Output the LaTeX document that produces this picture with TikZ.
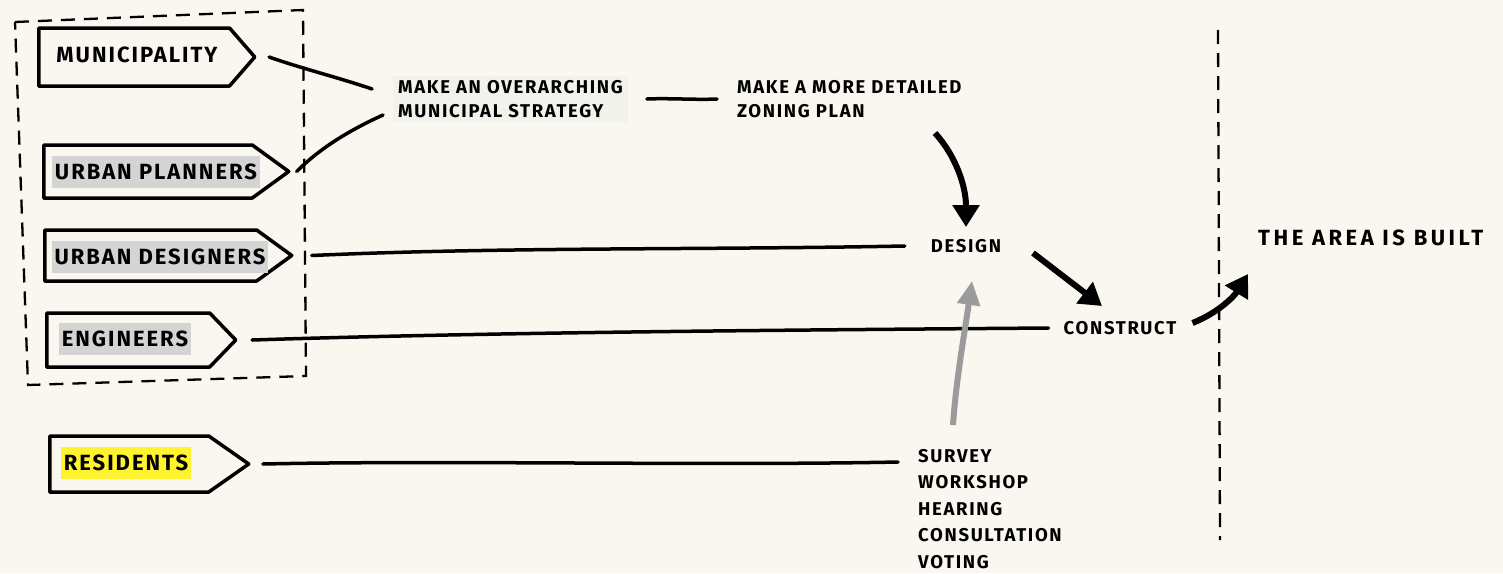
\documentclass[tikz,border=0pt]{standalone}
\usepackage{fontspec}
\setmainfont{Fira Sans}[LetterSpace=9]
\usetikzlibrary{arrows.meta,shapes.symbols}
\definecolor{bg}{HTML}{F9F7F0}
\definecolor{hlgrey}{HTML}{D4D4D4}
\definecolor{hlyellow}{HTML}{FFF22E}
\definecolor{hlpale}{HTML}{F2F2EC}
\definecolor{arrgrey}{HTML}{9B9B9B}
\tikzset{
  actor/.style={draw=black, line width=3.5pt, line join=round, fill=bg, signal, signal to=east, anchor=west, inner sep=0pt},
  big/.style={font=\fontsize{22}{26}\selectfont\bfseries, text=black},
  small/.style={font=\fontsize{18.5}{24}\selectfont\bfseries, text=black, align=left},
  hl/.style={big, inner xsep=3pt, inner ysep=8pt},
  conn/.style={draw=black, line width=3.5pt, line cap=round},
  thick arrow/.style={draw=black, line width=6pt, -{Triangle[length=22pt,width=26pt]}},
  grey arrow/.style={draw=arrgrey, line width=6pt, -{Triangle[length=24pt,width=22pt]}},
  dashline/.style={draw=black, line width=2.3pt, dash pattern=on 14pt off 9pt}
}
\begin{document}
\begin{tikzpicture}[x=1pt,y=-1pt]
\path[fill=bg] (0,0) rectangle (1503,573);
\useasboundingbox (0,0) rectangle (1503,573);

% dashed group box
\coordinate (g1) at (15,22);
\coordinate (g2) at (303,10);
\coordinate (g3) at (306,376);
\coordinate (g4) at (28,385);
\draw[dashline] (g1) -- (g2) -- (g3) -- (g4) -- cycle;

% vertical dashed divider
\coordinate (v1) at (1218,30);
\coordinate (v2) at (1220,540);
\draw[dashline] (v1) -- (v2);

% actors
\node[actor, minimum width=216pt, minimum height=58pt, signal pointer angle=98] (mun) at (37,57) {};
\node[big] (munt) at (137,55) {MUNICIPALITY};
\node[actor, minimum width=245pt, minimum height=53pt, signal pointer angle=72] (pla) at (42,171.5) {};
\node[hl, fill=hlgrey] (plat) at (156,172) {URBAN PLANNERS};
\node[actor, minimum width=247pt, minimum height=51pt, signal pointer angle=72] (des) at (43,255.5) {};
\node[hl, fill=hlgrey] (dest) at (160,257) {URBAN DESIGNERS};
\node[actor, minimum width=189pt, minimum height=54pt, signal pointer angle=92] (eng) at (45,340) {};
\node[hl, fill=hlgrey] (engt) at (125,339) {ENGINEERS};
\node[actor, minimum width=199pt, minimum height=56pt, signal pointer angle=70] (res) at (48,464) {};
\node[hl, fill=hlyellow] (rest) at (126,463) {RESIDENTS};

% process texts
\node[small, fill=hlpale, anchor=west, inner xsep=5pt, inner ysep=4pt] (strat) at (393,99) {MAKE AN OVERARCHING\\MUNICIPAL STRATEGY};
\node[small, anchor=west, inner sep=0pt] (zon) at (737,99) {MAKE A MORE DETAILED\\ZONING PLAN};
\node[small, inner sep=2pt] (design) at (966,246) {DESIGN};
\node[small, inner sep=2pt] (constr) at (1120,328) {CONSTRUCT};
\node[big, anchor=west, inner sep=0pt] (built) at (1258,238) {\addfontfeature{LetterSpace=16}THE AREA IS BUILT};
\node[small, anchor=north west, inner sep=0pt, font=\fontsize{18.5}{26.5}\selectfont\bfseries] (survey) at (918,449) {SURVEY\\WORKSHOP\\HEARING\\CONSULTATION\\VOTING};

% connectors
\draw[conn] ([xshift=12pt]mun.east) .. controls (300,68) and (340,78) .. ([xshift=-21pt,yshift=10pt]strat.west);
\draw[conn] ([xshift=5pt]pla.east) .. controls (320,148) and (350,130) .. ([xshift=-10pt,yshift=-16pt]strat.west);
\draw[conn] ([xshift=19pt]strat.east) .. controls (670,98) and (695,100) .. ([xshift=-20pt]zon.west);
\draw[conn] ([xshift=17pt]des.east) .. controls (500,247) and (700,250) .. ([xshift=-24pt]design.west);
\draw[conn] ([xshift=14pt]eng.east) .. controls (500,332) and (800,330) .. ([xshift=-13pt]constr.west);
\draw[conn] ([xshift=11pt]res.east) .. controls (450,460) and (700,466) .. ([xshift=-20pt,yshift=-13pt]survey.north west);
\draw[thick arrow] (935,133) .. controls (955,155) and (966,185) .. ([yshift=10pt]design.north);
\draw[thick arrow] (1033,253) -- (1102,306);
\draw[grey arrow] (953,425) .. controls (956,380) and (965,330) .. ([xshift=6pt,yshift=-26pt]design.south);
\draw[thick arrow] ([xshift=14pt,yshift=5pt]constr.east) .. controls (1220,312) and (1235,295) .. (1248,274);
\end{tikzpicture}
\end{document}
